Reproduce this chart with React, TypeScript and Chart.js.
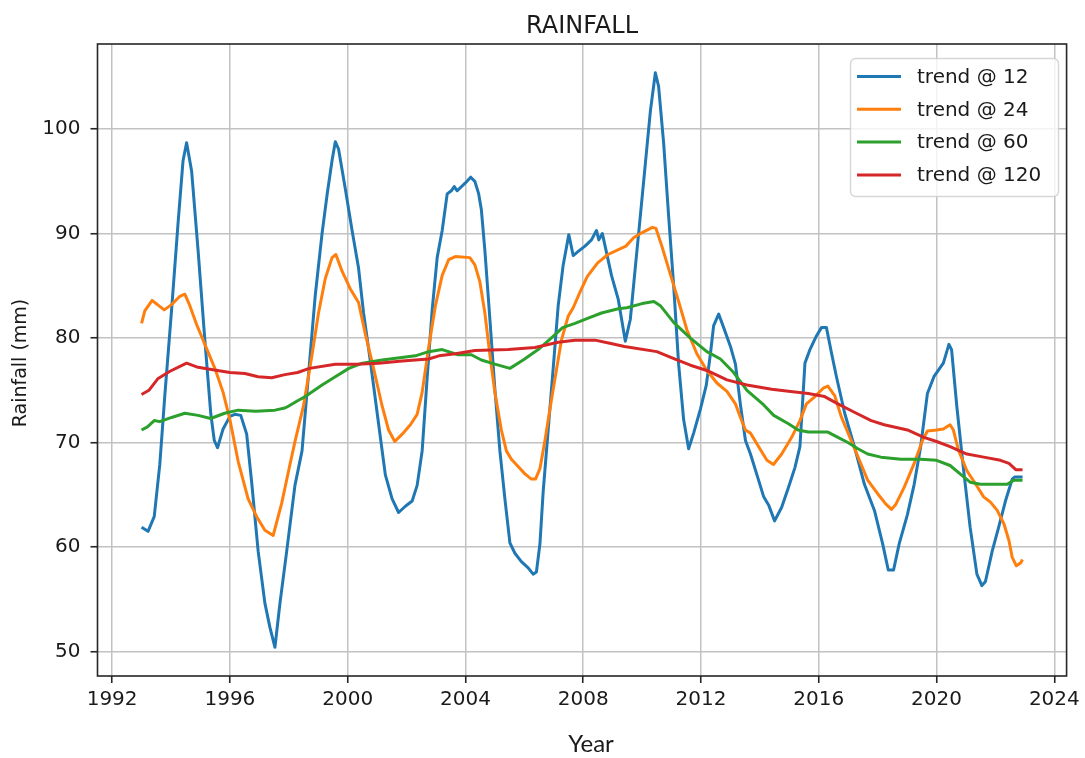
import { useEffect, useRef } from "react";
import { Chart, registerables } from "chart.js";

Chart.register(...registerables);

// Monthly rainfall trends, sampled as [decimal year, rainfall in mm]
const trend12: [number, number][] = [
  [1993.0, 61.9], [1993.22, 61.5], [1993.43, 62.9], [1993.62, 67.9], [1993.79, 74.5],
  [1994.02, 82.7], [1994.24, 91.0], [1994.41, 97.0], [1994.53, 98.7], [1994.7, 96.0],
  [1994.92, 88.4], [1995.15, 79.8], [1995.35, 72.8], [1995.47, 70.2], [1995.58, 69.5],
  [1995.77, 71.3], [1996.0, 72.5], [1996.17, 72.7], [1996.37, 72.6], [1996.57, 70.8],
  [1996.74, 66.2], [1996.96, 59.6], [1997.19, 54.6], [1997.36, 52.3], [1997.53, 50.4],
  [1997.7, 54.6], [1997.93, 59.6], [1998.21, 65.9], [1998.45, 69.2], [1998.67, 76.5],
  [1998.9, 84.1], [1999.13, 90.0], [1999.3, 93.7], [1999.47, 97.0], [1999.58, 98.8],
  [1999.69, 98.1], [1999.92, 94.3], [2000.15, 90.3], [2000.37, 86.7], [2000.54, 82.4],
  [2000.77, 77.8], [2001.05, 71.8], [2001.28, 66.9], [2001.51, 64.6], [2001.73, 63.3],
  [2001.96, 63.9], [2002.19, 64.4], [2002.36, 65.9], [2002.53, 69.2], [2002.7, 76.2],
  [2002.87, 82.7], [2003.04, 87.7], [2003.21, 90.3], [2003.38, 93.8], [2003.52, 94.1],
  [2003.62, 94.5], [2003.72, 94.1], [2003.98, 94.8], [2004.18, 95.4], [2004.32, 95.0],
  [2004.45, 93.8], [2004.54, 92.3], [2004.66, 88.4], [2004.83, 81.8], [2005.0, 75.1],
  [2005.17, 69.2], [2005.34, 64.6], [2005.51, 60.4], [2005.68, 59.4], [2005.9, 58.6],
  [2006.13, 58.0], [2006.3, 57.4], [2006.41, 57.6], [2006.53, 60.3], [2006.64, 65.3],
  [2006.81, 71.2], [2006.98, 77.1], [2007.15, 83.1], [2007.32, 87.0], [2007.51, 89.9],
  [2007.66, 87.9], [2007.83, 88.3], [2008.06, 88.8], [2008.28, 89.4], [2008.45, 90.3],
  [2008.53, 89.4], [2008.65, 90.0], [2008.79, 88.2], [2008.96, 86.0], [2009.19, 83.7],
  [2009.43, 79.7], [2009.6, 81.8], [2009.77, 86.8], [2009.94, 91.7], [2010.11, 96.7],
  [2010.28, 101.7], [2010.45, 105.4], [2010.56, 104.1], [2010.73, 98.7], [2010.9, 91.7],
  [2011.07, 85.1], [2011.24, 77.5], [2011.41, 72.2], [2011.58, 69.4], [2011.75, 70.9],
  [2011.98, 73.2], [2012.18, 75.5], [2012.32, 78.5], [2012.43, 81.2], [2012.6, 82.3],
  [2012.77, 81.0], [2013.0, 79.2], [2013.17, 77.5], [2013.34, 73.6], [2013.51, 70.2],
  [2013.68, 68.9], [2013.9, 66.9], [2014.13, 64.8], [2014.3, 64.0], [2014.5, 62.5],
  [2014.74, 63.8], [2014.97, 65.7], [2015.19, 67.6], [2015.36, 69.6], [2015.53, 77.6],
  [2015.7, 78.9], [2015.92, 80.2], [2016.09, 81.0], [2016.26, 81.0], [2016.43, 78.6],
  [2016.6, 76.3], [2016.88, 72.8], [2017.21, 69.6], [2017.55, 66.0], [2017.89, 63.5],
  [2018.17, 60.3], [2018.36, 57.8], [2018.54, 57.8], [2018.73, 60.3], [2019.01, 63.1],
  [2019.24, 66.0], [2019.46, 69.6], [2019.69, 74.7], [2019.91, 76.3], [2020.23, 77.6],
  [2020.42, 79.4], [2020.51, 78.9], [2020.69, 73.4], [2020.91, 67.6], [2021.14, 61.9],
  [2021.37, 57.4], [2021.54, 56.3], [2021.66, 56.7], [2021.89, 59.6], [2022.11, 61.9],
  [2022.34, 64.4], [2022.57, 66.5], [2022.65, 66.7], [2022.92, 66.7],
];

const trend24: [number, number][] = [
  [1993.0, 81.4], [1993.11, 82.6], [1993.36, 83.6], [1993.54, 83.2], [1993.77, 82.7],
  [1994.02, 83.2], [1994.3, 84.0], [1994.47, 84.2], [1994.64, 83.1], [1994.87, 81.3],
  [1995.15, 79.4], [1995.49, 77.1], [1995.77, 74.8], [1996.0, 72.2], [1996.28, 68.2],
  [1996.62, 64.6], [1996.91, 62.9], [1997.19, 61.6], [1997.47, 61.1], [1997.76, 64.2],
  [1998.04, 67.9], [1998.22, 70.2], [1998.5, 73.5], [1998.79, 78.4], [1999.01, 82.4],
  [1999.24, 85.7], [1999.47, 87.7], [1999.6, 88.0], [1999.81, 86.4], [2000.09, 84.7],
  [2000.37, 83.4], [2000.6, 80.4], [2000.88, 77.1], [2001.17, 73.5], [2001.39, 71.2],
  [2001.6, 70.1], [2001.85, 70.8], [2002.13, 71.7], [2002.36, 72.7], [2002.53, 74.8],
  [2002.75, 79.1], [2002.98, 83.1], [2003.21, 86.0], [2003.43, 87.5], [2003.66, 87.8],
  [2004.15, 87.7], [2004.32, 87.0], [2004.49, 85.4], [2004.66, 82.4], [2004.83, 78.4],
  [2005.0, 74.8], [2005.22, 71.2], [2005.39, 69.2], [2005.56, 68.4], [2005.79, 67.7],
  [2006.02, 67.0], [2006.24, 66.5], [2006.38, 66.5], [2006.53, 67.5], [2006.7, 70.2],
  [2006.87, 73.2], [2007.04, 76.1], [2007.26, 79.8], [2007.49, 82.1], [2007.66, 82.9],
  [2007.89, 84.4], [2008.14, 85.9], [2008.49, 87.2], [2008.84, 88.0], [2009.45, 88.8],
  [2009.71, 89.6], [2010.0, 90.1], [2010.35, 90.6], [2010.47, 90.5], [2010.67, 88.8],
  [2010.96, 86.1], [2011.24, 83.5], [2011.52, 80.8], [2011.86, 78.5], [2012.2, 76.9],
  [2012.54, 75.7], [2012.88, 74.9], [2013.17, 73.7], [2013.34, 72.4], [2013.51, 71.2],
  [2013.68, 70.9], [2014.02, 69.3], [2014.24, 68.3], [2014.46, 67.9], [2014.74, 68.9],
  [2015.08, 70.5], [2015.36, 72.1], [2015.58, 73.7], [2015.87, 74.4], [2016.15, 75.2],
  [2016.31, 75.4], [2016.54, 74.5], [2016.76, 72.5], [2017.1, 70.2], [2017.38, 68.3],
  [2017.66, 66.4], [2018.0, 65.1], [2018.28, 64.1], [2018.47, 63.6], [2018.62, 64.1],
  [2018.9, 65.7], [2019.24, 68.0], [2019.52, 70.2], [2019.69, 71.1], [2020.0, 71.2],
  [2020.23, 71.3], [2020.46, 71.7], [2020.57, 71.2], [2020.74, 69.3], [2021.03, 67.3],
  [2021.31, 66.1], [2021.6, 64.8], [2021.83, 64.3], [2022.06, 63.5], [2022.29, 62.2],
  [2022.46, 60.6], [2022.57, 59.0], [2022.71, 58.2], [2022.86, 58.5], [2022.92, 58.8],
];

const trend60: [number, number][] = [
  [1993.0, 71.2], [1993.2, 71.5], [1993.43, 72.1], [1993.62, 72.0], [1994.02, 72.4],
  [1994.47, 72.8], [1994.92, 72.6], [1995.35, 72.3], [1995.82, 72.8], [1996.28, 73.1],
  [1996.88, 73.0], [1997.53, 73.1], [1997.87, 73.3], [1998.0, 73.5], [1998.3, 74.0],
  [1998.56, 74.4], [1999.13, 75.5], [1999.58, 76.3], [2000.04, 77.1], [2000.5, 77.6],
  [2001.17, 77.9], [2002.3, 78.3], [2002.75, 78.7], [2003.21, 78.9], [2003.75, 78.4],
  [2004.2, 78.4], [2004.54, 77.9], [2005.0, 77.5], [2005.51, 77.1], [2005.96, 77.9],
  [2006.47, 78.9], [2006.95, 80.1], [2007.3, 81.0], [2007.72, 81.4], [2008.17, 81.9],
  [2008.62, 82.4], [2009.19, 82.8], [2009.48, 82.9], [2010.0, 83.3], [2010.4, 83.5],
  [2010.62, 83.1], [2011.07, 81.5], [2011.64, 80.0], [2012.2, 78.7], [2012.66, 78.0],
  [2013.11, 76.7], [2013.56, 75.0], [2014.13, 73.6], [2014.47, 72.6], [2014.97, 71.8],
  [2015.3, 71.2], [2015.64, 71.0], [2016.31, 71.0], [2016.65, 70.5], [2016.99, 70.0],
  [2017.33, 69.4], [2017.66, 68.9], [2018.11, 68.6], [2018.79, 68.4], [2019.46, 68.4],
  [2020.0, 68.3], [2020.46, 67.8], [2020.8, 67.0], [2021.14, 66.2], [2021.49, 66.0],
  [2022.06, 66.0], [2022.4, 66.0], [2022.63, 66.4], [2022.92, 66.4],
];

const trend120: [number, number][] = [
  [1993.0, 74.6], [1993.25, 75.0], [1993.55, 76.1], [1993.95, 76.8], [1994.53, 77.6],
  [1994.92, 77.2], [1995.37, 77.0], [1996.0, 76.7], [1996.51, 76.6], [1996.96, 76.3],
  [1997.42, 76.2], [1997.87, 76.5], [1998.3, 76.7], [1998.7, 77.1], [1999.58, 77.5],
  [2000.27, 77.5], [2001.05, 77.6], [2001.85, 77.8], [2002.75, 78.0], [2003.1, 78.3],
  [2003.66, 78.5], [2004.32, 78.8], [2005.45, 78.9], [2006.36, 79.1], [2007.15, 79.6],
  [2007.72, 79.8], [2008.4, 79.8], [2008.9, 79.5], [2009.4, 79.2], [2010.5, 78.7],
  [2011.1, 78.0], [2011.64, 77.4], [2012.2, 76.9], [2012.88, 76.0], [2013.56, 75.5],
  [2014.4, 75.1], [2014.97, 74.9], [2015.64, 74.7], [2016.2, 74.4], [2016.65, 73.7],
  [2017.21, 72.9], [2017.78, 72.1], [2018.22, 71.7], [2019.01, 71.2], [2019.57, 70.5],
  [2020.0, 70.1], [2020.46, 69.6], [2021.03, 68.9], [2021.6, 68.6], [2022.17, 68.3],
  [2022.46, 68.0], [2022.69, 67.4], [2022.92, 67.4],
];

const seriesLabels = ["trend @ 12", "trend @ 24", "trend @ 60", "trend @ 120"];
const seriesColors = ["#1f77b4", "#ff7f0e", "#2ca02c", "#d62728"];
const seriesData = [trend12, trend24, trend60, trend120];

const yearTicks = [1992, 1996, 2000, 2004, 2008, 2012, 2016, 2020, 2024];
const rainfallTicks = [50, 60, 70, 80, 90, 100];

const chartTitle = "RAINFALL";
const xAxisTitle = "Year";
const yAxisTitle = "Rainfall (mm)";

const TICK_FONT = "DejaVu Sans";

// Axis limits padded by 5% of the data span on each side
function paddedRange(values: number[]): [number, number] {
  const lo = Math.min(...values);
  const hi = Math.max(...values);
  const pad = (hi - lo) * 0.05;
  return [lo - pad, hi + pad];
}

const allYears = seriesData.flatMap((s) => s.map((p) => p[0]));
const allValues = seriesData.flatMap((s) => s.map((p) => p[1]));
const [xMin, xMax] = paddedRange(allYears);
const [yMin, yMax] = paddedRange(allValues);

const decorations = {
  id: "decorations",
  afterDatasetsDraw(chart: any) {
    const { ctx, chartArea } = chart;
    const { left, top, right, bottom } = chartArea;
    ctx.save();

    // axes frame
    ctx.strokeStyle = "#262626";
    ctx.lineWidth = 1.6;
    ctx.strokeRect(left, top, right - left, bottom - top);

    // legend box in the upper right
    const boxX = 850.5;
    const boxY = 58.5;
    const boxW = 208;
    const boxH = 138;
    ctx.beginPath();
    ctx.roundRect(boxX, boxY, boxW, boxH, 5);
    ctx.fillStyle = "rgba(255,255,255,0.8)";
    ctx.fill();
    ctx.strokeStyle = "rgba(204,204,204,0.8)";
    ctx.lineWidth = 1.4;
    ctx.stroke();

    ctx.font = `20px "${TICK_FONT}"`;
    ctx.textBaseline = "middle";
    ctx.textAlign = "left";
    chart.data.datasets.forEach((ds: any, i: number) => {
      const rowY = 76.5 + i * 32.8;
      ctx.beginPath();
      ctx.moveTo(857, rowY);
      ctx.lineTo(901, rowY);
      ctx.strokeStyle = ds.borderColor;
      ctx.lineWidth = 3;
      ctx.stroke();
      ctx.fillStyle = "#1a1a1a";
      ctx.fillText(ds.label, 917, rowY + 1);
    });
    ctx.restore();
  },
  afterDraw(chart: any) {
    const { ctx, chartArea } = chart;
    const { left, top, right, bottom } = chartArea;
    ctx.save();
    ctx.fillStyle = "#1a1a1a";

    // title
    ctx.font = `24px "${TICK_FONT}"`;
    ctx.textAlign = "center";
    ctx.textBaseline = "alphabetic";
    ctx.fillText(chartTitle, (left + right) / 2, 33);

    // x axis title
    ctx.font = `24px "Lato"`;
    ctx.fillText(xAxisTitle, 591, 752);

    // y axis title
    ctx.font = `19px "${TICK_FONT}"`;
    ctx.translate(21, (top + bottom) / 2 + 3);
    ctx.rotate(-Math.PI / 2);
    ctx.textBaseline = "middle";
    ctx.fillText(yAxisTitle, 0, 0);
    ctx.restore();
  },
};

export default function App() {
  const canvasRef = useRef<HTMLCanvasElement | null>(null);

  useEffect(() => {
    const canvas = canvasRef.current;
    if (!canvas) return;
    Chart.defaults.font.family = TICK_FONT;

    const chart = new Chart(canvas, {
      type: "line",
      data: {
        datasets: seriesData.map((series, i) => ({
          label: seriesLabels[i],
          data: series.map(([x, y]) => ({ x, y })),
          borderColor: seriesColors[i],
          backgroundColor: seriesColors[i],
          borderWidth: 3,
          pointRadius: 0,
          tension: 0,
          fill: false,
          order: seriesData.length - i,
          borderJoinStyle: "round" as const,
          borderCapStyle: "butt" as const,
        })),
      },
      options: {
        animation: false,
        responsive: false,
        maintainAspectRatio: false,
        devicePixelRatio: 1,
        layout: { padding: { top: 44, right: 17, left: 0, bottom: 0 } },
        plugins: {
          legend: { display: false },
          title: { display: false },
          tooltip: { enabled: false },
        },
        scales: {
          x: {
            type: "linear",
            min: xMin,
            max: xMax,
            afterBuildTicks: (scale: any) => {
              scale.ticks = yearTicks.map((v) => ({ value: v }));
            },
            afterFit: (scale: any) => {
              scale.height = 82;
            },
            ticks: {
              callback: (v: any) => String(v),
              font: { size: 20, family: TICK_FONT },
              color: "#1a1a1a",
              padding: 5,
              maxRotation: 0,
              autoSkip: false,
            },
            grid: {
              color: "#c2c2c2",
              lineWidth: 1.5,
              tickColor: "#262626",
              tickWidth: 1.6,
              tickLength: 7,
              drawTicks: true,
            },
            border: { display: false },
          },
          y: {
            type: "linear",
            min: yMin,
            max: yMax,
            afterBuildTicks: (scale: any) => {
              scale.ticks = rainfallTicks.map((v) => ({ value: v }));
            },
            afterFit: (scale: any) => {
              scale.width = 97.5;
            },
            ticks: {
              callback: (v: any) => String(v),
              font: { size: 20, family: TICK_FONT },
              color: "#1a1a1a",
              padding: 10,
              autoSkip: false,
            },
            grid: {
              color: "#c2c2c2",
              lineWidth: 1.5,
              tickColor: "#262626",
              tickWidth: 1.6,
              tickLength: 7,
              drawTicks: true,
            },
            border: { display: false },
          },
        },
      },
      plugins: [decorations],
    });

    return () => chart.destroy();
  }, []);

  return (
    <div
      style={{
        position: "absolute",
        left: 0,
        top: 0,
        width: 1085,
        height: 758,
        background: "#ffffff",
      }}
    >
      <canvas ref={canvasRef} width={1085} height={758} style={{ width: 1085, height: 758 }} />
    </div>
  );
}
